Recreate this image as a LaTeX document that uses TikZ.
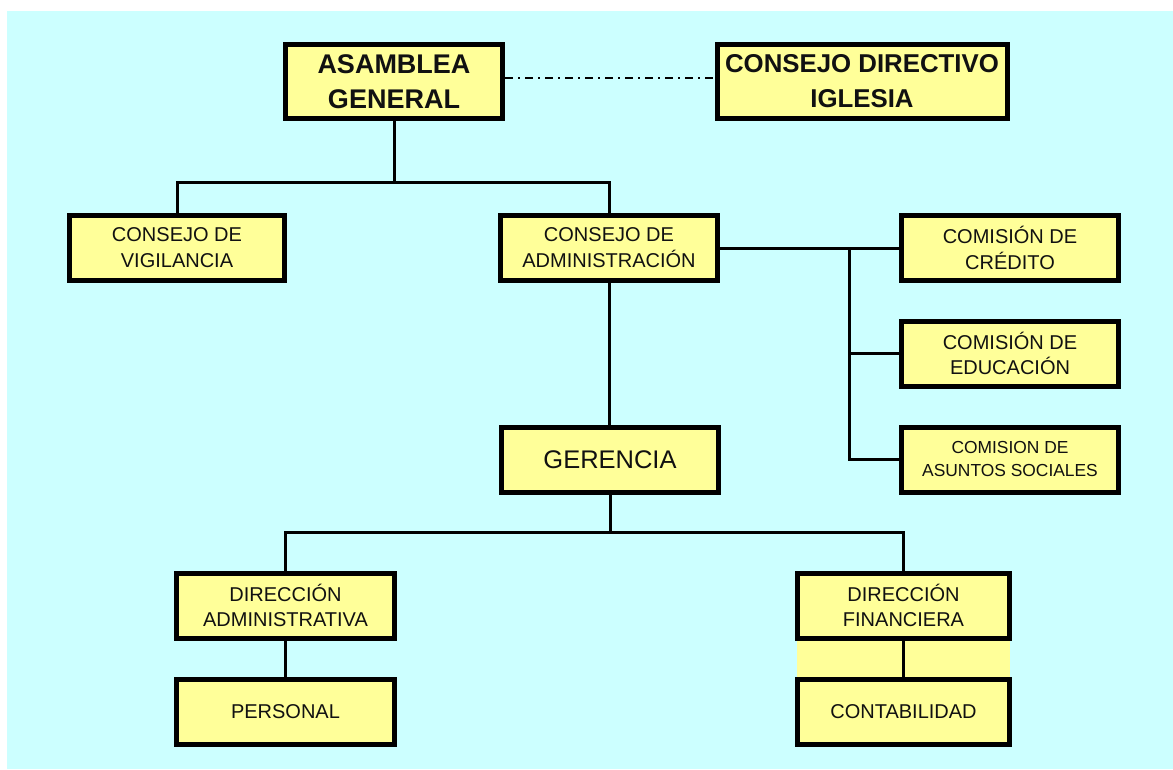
\documentclass[tikz,border=0pt]{standalone}
\usepackage{fontspec}
\setmainfont{Liberation Sans}
\definecolor{bgcyan}{HTML}{CCFFFF}
\definecolor{boxyellow}{HTML}{FFFF99}
\definecolor{ink}{HTML}{111111}
\begin{document}
\begin{tikzpicture}[x=1pt,y=-1pt,
  orgbox/.style={draw=black,line width=5pt,fill=boxyellow,text=ink,align=center,
    inner sep=0pt,minimum height=65pt},
  bigtxt/.style={font=\fontsize{27}{35}\selectfont\bfseries},
  dirtxt/.style={font=\fontsize{25.8}{35}\selectfont\bfseries},
  midtxt/.style={font=\fontsize{20}{25.8}\selectfont},
  smalltxt/.style={font=\fontsize{17.4}{23}\selectfont},
  gertxt/.style={font=\fontsize{25.5}{28}\selectfont},
  link/.style={draw=black,line width=3pt},
  dashlink/.style={draw=black,line width=2pt,dash pattern=on 8pt off 5pt on 2pt off 5pt}]
\useasboundingbox (0,0) rectangle (1173,769);
\fill[bgcyan] (7,11) rectangle (1173,769);
\fill[boxyellow] (797,640) rectangle (1010,677);

\node[orgbox,bigtxt,minimum width=217pt,minimum height=74pt] (asam) at (394,81.5) {ASAMBLEA\\GENERAL};
\node[orgbox,dirtxt,minimum width=290pt,minimum height=74pt] (direc) at (862,81.5) {CONSEJO DIRECTIVO\\IGLESIA};
\node[orgbox,midtxt,minimum width=215pt] (vig) at (177,248) {CONSEJO DE\\VIGILANCIA};
\node[orgbox,midtxt,minimum width=217pt] (adm) at (609,248) {CONSEJO DE\\ADMINISTRACIÓN};
\node[orgbox,midtxt,minimum width=217pt] (cred) at (1010,248) {COMISIÓN DE\\CRÉDITO};
\node[orgbox,midtxt,minimum width=217pt] (edu) at (1010,353.5) {COMISIÓN DE\\EDUCACIÓN};
\node[orgbox,smalltxt,minimum width=217pt] (soc) at (1010,459.5) {COMISION DE\\ASUNTOS SOCIALES};
\node[orgbox,gertxt,minimum width=217pt] (ger) at (610,459.5) {GERENCIA};
\node[orgbox,midtxt,minimum width=218pt] (dadm) at (285.5,605.5) {DIRECCIÓN\\ADMINISTRATIVA};
\node[orgbox,midtxt,minimum width=212pt] (dfin) at (903.5,605.5) {DIRECCIÓN\\FINANCIERA};
\node[orgbox,midtxt,minimum width=218pt] (pers) at (285.5,712) {PERSONAL};
\node[orgbox,midtxt,minimum width=212pt] (cont) at (903.5,712) {CONTABILIDAD};

\coordinate (top) at (394,182);
\coordinate (mid) at (609,532);
\coordinate (rail) at (849,248);

\draw[dashlink] ([yshift=3.5pt]asam.east) -- ([yshift=3.5pt]direc.west);

\draw[link] (asam.south) -- (top);
\draw[link] (vig.north) |- (top) -| (adm.north);

\draw[link] (adm.east) -- (cred.west);
\draw[link] (rail) |- (soc.west);
\draw[link] (rail |- edu.west) -- (edu.west);

\draw[link] (adm.south) -- (adm.south |- ger.north);
\draw[link] (ger.south) -- (ger.south |- mid);
\draw[link] (dadm.north) |- (mid) -| (dfin.north);

\draw[link] (dadm.south) -- (pers.north);
\draw[link] (dfin.south) -- (cont.north);
\end{tikzpicture}
\end{document}
